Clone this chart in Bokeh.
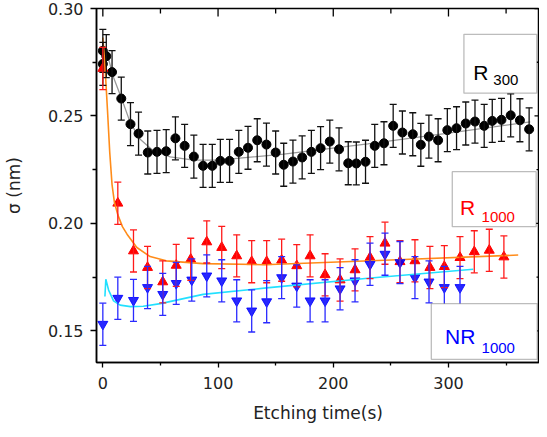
import math
from bokeh.plotting import figure
from bokeh.models import (Range1d, FixedTicker, Whisker, ColumnDataSource,
                          TeeHead, BoxAnnotation, Label)
from bokeh.embed import file_html
from bokeh.resources import INLINE

# ---------------- data ----------------
# R300 (black circles)
t_r300 = [0, 0, 3, 8, 16, 24, 31, 39, 47, 55, 63, 71, 79, 87, 95, 102, 110, 118, 126, 134,
          142, 150, 157, 165, 173, 181, 189, 197, 205, 213, 220, 228, 236, 244, 252, 260,
          269, 276, 283, 291, 299, 307, 315, 323, 331, 338, 346, 354, 362, 370]
s_r300 = [0.2803, 0.2742, 0.2778, 0.2704, 0.2581, 0.2462, 0.2418, 0.2330, 0.2333, 0.2336,
          0.2396, 0.2361, 0.2311, 0.2268, 0.2268, 0.2291, 0.2291, 0.2333, 0.2352, 0.2387,
          0.2367, 0.2330, 0.2273, 0.2288, 0.2307, 0.2333, 0.2350, 0.2381, 0.2345, 0.2280,
          0.2279, 0.2287, 0.2361, 0.2373, 0.2454, 0.2423, 0.2415, 0.2366, 0.2404, 0.2387,
          0.2434, 0.2443, 0.2465, 0.2474, 0.2454, 0.2477, 0.2482, 0.2503, 0.2480, 0.2438]
e_r300 = [0.0100] * len(t_r300)

# R1000 (red up-triangles)
t_r1000 = [0, 13, 26.6, 38.8, 52, 63.7, 76.3, 90.2, 103.2, 116.2, 129.2, 142.2, 155.2, 168.3,
           179.9, 192.9, 205.9, 218.9, 231.9, 244.9, 257.9, 270.9, 283.9, 296.4, 310, 322.4,
           335.4, 348.1]
s_r1000 = [0.2721, 0.2094, 0.1872, 0.1795, 0.1728, 0.1805, 0.1833, 0.1914, 0.1888, 0.1849,
           0.1822, 0.1822, 0.1829, 0.1803, 0.1849, 0.1761, 0.1737, 0.1784, 0.1841, 0.1908,
           0.1822, 0.1826, 0.1795, 0.1799, 0.1841, 0.1868, 0.1875, 0.1844]
e_r1000 = [0.0098] * len(t_r1000)

# NR1000 (blue down-triangles)
t_nr1000 = [0, 13, 26.6, 38.8, 52, 63.7, 77.2, 90.2, 103.2, 116.2, 129.2, 142.2, 155.2, 168.3,
            179.9, 192.9, 205.9, 218.9, 231.9, 244.9, 257.9, 270.9, 283.1, 296.4, 310]
s_nr1000 = [0.1531, 0.1652, 0.1642, 0.1702, 0.1670, 0.1721, 0.1737, 0.1756, 0.1733, 0.1640,
            0.1593, 0.1636, 0.1748, 0.1709, 0.1640, 0.1640, 0.1696, 0.1733, 0.1810, 0.1857,
            0.1818, 0.1748, 0.1728, 0.1702, 0.1702]
e_nr1000 = [0.0098] * len(t_nr1000)

# fit curves
fit_r300_t = [2, 3.5, 9.3, 16.5, 23.8, 32.4, 44, 58.5, 78.7, 100, 157, 230, 300, 371]
fit_r300_s = [0.2820, 0.2795, 0.2679, 0.2578, 0.2469, 0.2392, 0.2337, 0.2310, 0.2295,
              0.2295, 0.2322, 0.2370, 0.2420, 0.2473]
fit_r1000_t = [0, 2, 4, 6, 8, 10, 13, 17, 21, 29.5, 41, 55, 87, 140, 250, 360.5]
fit_r1000_s = [0.2865, 0.2720, 0.2530, 0.2330, 0.2180, 0.2100, 0.2040, 0.1985, 0.1950,
               0.1888, 0.1846, 0.1826, 0.1813, 0.1808, 0.1830, 0.1853]
fit_nr1000_t = [1.8, 2.6, 5, 9.3, 15, 24, 35, 50, 87, 142, 230, 321.5]
fit_nr1000_s = [0.1660, 0.1740, 0.1690, 0.1640, 0.1620, 0.1613, 0.1615, 0.1627, 0.1670,
                0.1700, 0.1745, 0.1787]

x_ticks = [0, 100, 200, 300]
x_minor = [50, 150, 250, 350]
y_ticks = [0.15, 0.20, 0.25, 0.30]
y_minor = [0.175, 0.225, 0.275]
y_tick_labels = {0.15: "0.15", 0.20: "0.20", 0.25: "0.25", 0.30: "0.30"}

X0, X1 = -5.5, 379.0
Y0, Y1 = 0.1353, 0.30

# ---------------- figure ----------------
p = figure(frame_width=443, frame_height=354, x_range=Range1d(X0, X1), y_range=Range1d(Y0, Y1),
           output_backend="svg", toolbar_location=None,
           min_border_left=95, min_border_right=0, min_border_top=8, min_border_bottom=0)
p.grid.visible = False
p.outline_line_color = "black"
p.outline_line_width = 1.5
p.background_fill_color = "white"
p.border_fill_color = "white"

TICK_FONT = "DejaVu Sans"

xa = p.xaxis[0]
xa.ticker = FixedTicker(ticks=x_ticks, minor_ticks=x_minor)
xa.axis_label = "Etching time(s)"
ya = p.yaxis[0]
ya.ticker = FixedTicker(ticks=y_ticks, minor_ticks=y_minor)
ya.axis_label = "σ (nm)"
ya.major_label_overrides = y_tick_labels

for ax in (xa, ya):
    ax.axis_line_color = "black"
    ax.axis_line_width = 1.5
    ax.major_tick_line_color = "black"
    ax.minor_tick_line_color = "black"
    ax.major_tick_line_width = 1.3
    ax.minor_tick_line_width = 1.3
    ax.major_tick_in = 0
    ax.minor_tick_in = 0
    ax.major_label_text_font = TICK_FONT
    ax.major_label_text_font_size = "16px"
    ax.major_label_text_color = "#222222"
    ax.axis_label_text_font = TICK_FONT
    ax.axis_label_text_font_size = "17px"
    ax.axis_label_text_font_style = "normal"
    ax.axis_label_text_color = "#222222"

xa.major_tick_out = 5
xa.minor_tick_out = 3
xa.major_label_standoff = 9
xa.axis_label_standoff = 11
ya.major_tick_out = 6
ya.minor_tick_out = 4
ya.major_label_standoff = 7
ya.axis_label_standoff = 21

# mirrored inward ticks on top and right edges (screen-length rays from the tick lists)
p.ray(x=x_ticks, y=[Y1] * len(x_ticks), length=8, length_units="screen",
      angle=-math.pi / 2, line_color="black", line_width=1.3)
p.ray(x=x_minor, y=[Y1] * len(x_minor), length=5, length_units="screen",
      angle=-math.pi / 2, line_color="black", line_width=1.3)
p.ray(x=[X1] * len(y_ticks), y=y_ticks, length=5, length_units="screen",
      angle=math.pi, line_color="black", line_width=1.3)
p.ray(x=[X1] * len(y_minor), y=y_minor, length=3, length_units="screen",
      angle=math.pi, line_color="black", line_width=1.3)

# ---------------- series ----------------
def errbars(t, s, e, color):
    src = ColumnDataSource(dict(t=t, s=s,
                                up=[a + b for a, b in zip(s, e)],
                                lo=[a - b for a, b in zip(s, e)]))
    w = Whisker(source=src, base="t", upper="up", lower="lo", dimension="height",
                line_color=color, line_width=1.3, level="glyph",
                upper_head=TeeHead(size=7, line_color=color, line_width=1.3),
                lower_head=TeeHead(size=7, line_color=color, line_width=1.3))
    p.add_layout(w)
    return src

# R300
p.line(fit_r300_t, fit_r300_s, line_color="#999999", line_width=1.3)
src_b = errbars(t_r300, s_r300, e_r300, "#111111")
p.scatter("t", "s", source=src_b, marker="circle", size=9, fill_color="black", line_color="black")

# R1000
src_r = errbars(t_r1000, s_r1000, e_r1000, "#ff1a1a")
p.scatter("t", "s", source=src_r, marker="triangle", size=10, fill_color="#ff0000",
          line_color="#ff0000")
p.line(fit_r1000_t, fit_r1000_s, line_color="#ff8c1a", line_width=1.6)

# NR1000
src_n = errbars(t_nr1000, s_nr1000, e_nr1000, "#2a2aff")
p.scatter("t", "s", source=src_n, marker="inverted_triangle", size=10, fill_color="#0000ff",
          line_color="#0000ff", fill_alpha=0.85, line_alpha=0.85)
p.line(fit_nr1000_t, fit_nr1000_s, line_color="#22e0ff", line_width=1.6)

# ---------------- labelled boxes ----------------
LBL_FONT = "Liberation Sans"
boxes = [
    dict(l=313.4, r=376.6, b=0.2606, t=0.2880, color="black", main="R", sub="300",
         mx=321.5, my=0.2702, sx=338.9, sy=0.2668),
    dict(l=303.3, r=376.1, b=0.1985, t=0.2241, color="#ff0000", main="R", sub="1000",
         mx=310.0, my=0.2074, sx=328.7, sy=0.2032),
    dict(l=285.1, r=377.0, b=0.1368, t=0.1627, color="#0000ff", main="NR", sub="1000",
         mx=297.0, my=0.1474, sx=328.7, sy=0.1419),
]
for bx in boxes:
    p.add_layout(BoxAnnotation(left=bx["l"], right=bx["r"], bottom=bx["b"], top=bx["t"],
                               fill_color="white", fill_alpha=1.0, line_color="#222222",
                               line_width=1.3, level="overlay"))
    p.add_layout(Label(x=bx["mx"], y=bx["my"], text=bx["main"], text_font=LBL_FONT,
                       text_font_size="21px", text_color=bx["color"],
                       text_baseline="alphabetic", text_align="left", level="overlay"))
    p.add_layout(Label(x=bx["sx"], y=bx["sy"], text=bx["sub"], text_font=LBL_FONT,
                       text_font_size="15px", text_color=bx["color"],
                       text_baseline="alphabetic", text_align="left", level="overlay"))

open("out.html", "w").write(file_html(p, INLINE))
